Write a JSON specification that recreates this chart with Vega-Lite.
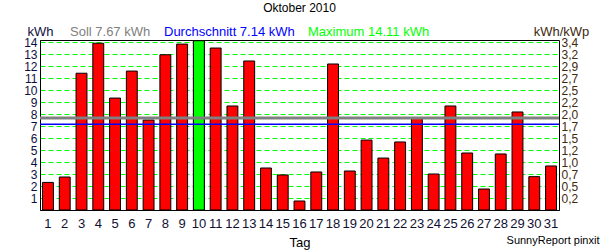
{
  "$schema": "https://vega.github.io/schema/vega-lite/v6.json",
  "autosize": {"type": "none"},
  "padding": {"left": 40, "top": 40, "right": 41, "bottom": 40},
  "width": 519,
  "height": 170,
  "background": "white",
  "title": {"text": "Oktober 2010", "fontSize": 12, "fontWeight": "normal", "font": "Liberation Sans", "color": "black", "anchor": "middle", "frame": "group", "offset": 10},
  "data": {"values": [
    {"Tag": 1, "kWh": 2.3}, {"Tag": 2, "kWh": 2.75}, {"Tag": 3, "kWh": 11.4}, {"Tag": 4, "kWh": 13.9},
    {"Tag": 5, "kWh": 9.33}, {"Tag": 6, "kWh": 11.58}, {"Tag": 7, "kWh": 7.5}, {"Tag": 8, "kWh": 12.94},
    {"Tag": 9, "kWh": 13.83}, {"Tag": 10, "kWh": 14.11}, {"Tag": 11, "kWh": 13.5}, {"Tag": 12, "kWh": 8.67},
    {"Tag": 13, "kWh": 12.42}, {"Tag": 14, "kWh": 3.5}, {"Tag": 15, "kWh": 2.92}, {"Tag": 16, "kWh": 0.75},
    {"Tag": 17, "kWh": 3.17}, {"Tag": 18, "kWh": 12.17}, {"Tag": 19, "kWh": 3.25}, {"Tag": 20, "kWh": 5.83},
    {"Tag": 21, "kWh": 4.33}, {"Tag": 22, "kWh": 5.67}, {"Tag": 23, "kWh": 7.64}, {"Tag": 24, "kWh": 3.0},
    {"Tag": 25, "kWh": 8.67}, {"Tag": 26, "kWh": 4.75}, {"Tag": 27, "kWh": 1.75}, {"Tag": 28, "kWh": 4.67},
    {"Tag": 29, "kWh": 8.17}, {"Tag": 30, "kWh": 2.78}, {"Tag": 31, "kWh": 3.67}
  ]},
  "layer": [
    {
      "mark": {"type": "bar", "fill": "#ff0000", "stroke": "black", "strokeWidth": 1},
      "encoding": {
        "x": {"field": "Tag", "type": "ordinal", "scale": {"paddingInner": 0.35, "paddingOuter": 0.15},
          "axis": {"orient": "bottom", "labelAngle": 0, "ticks": false, "tickSize": 0, "labelPadding": 7, "labelFontSize": 13, "labelFont": "Liberation Sans", "labelColor": "#101030", "labelOverlap": false, "domainColor": "black", "grid": false,
            "title": "Tag", "titleFontSize": 13, "titleFontWeight": "normal", "titleFont": "Liberation Sans", "titleColor": "black", "titleY": 32, "titleBaseline": "middle"}},
        "y": {"field": "kWh", "type": "quantitative", "scale": {"domain": [0, 14.17], "nice": false},
          "axis": {"orient": "left", "values": [1,2,3,4,5,6,7,8,9,10,11,12,13,14], "grid": true, "gridColor": "#00ff00", "gridDash": [5, 3], "gridWidth": 1, "ticks": false, "tickSize": 0, "labelPadding": 3, "labelFontSize": 12, "labelFont": "Liberation Sans", "labelColor": "#101040", "labelOverlap": false, "labelBound": false, "domainColor": "black",
            "title": "kWh", "titleAngle": 0, "titleX": 0, "titleY": -8.5, "titleAlign": "center", "titleBaseline": "middle", "titleFontSize": 13, "titleFontWeight": "normal", "titleFont": "Liberation Sans", "titleColor": "#101040"}}
      }
    },
    {
      "transform": [
        {"joinaggregate": [{"op": "max", "field": "kWh", "as": "maxkWh"}]},
        {"filter": "datum.kWh == datum.maxkWh"}
      ],
      "mark": {"type": "bar", "fill": "#00ff00", "stroke": "black", "strokeWidth": 1},
      "encoding": {
        "x": {"field": "Tag", "type": "ordinal",
          "axis": {"orient": "bottom", "labels": false, "ticks": false, "domain": false, "grid": false,
            "title": "SunnyReport pinxit", "titleFontSize": 11, "titleFontWeight": "normal", "titleFont": "Liberation Sans", "titleColor": "black", "titleX": 559, "titleY": 30, "titleAlign": "right", "titleAnchor": "end", "titleBaseline": "middle"}},
        "y": {"field": "kWh", "type": "quantitative", "axis": null}
      }
    },
    {
      "data": {"values": [
        {"label": "Soll 7.67 kWh", "kWh": 7.67},
        {"label": "Durchschnitt 7.14 kWh", "kWh": 7.14}
      ]},
      "mark": {"type": "rule"},
      "encoding": {
        "y": {"field": "kWh", "type": "quantitative",
          "axis": {"orient": "right", "values": [1,2,3,4,5,6,7,8,9,10,11,12,13,14], "grid": false, "ticks": false, "tickSize": 0, "domain": false, "labelPadding": 2, "labelFontSize": 12, "labelFont": "Liberation Sans", "labelColor": "#402a10", "labelOverlap": false, "labelBound": false,
            "labelExpr": "replace(format(datum.value / 4.075, '.1f'), '.', ',')",
            "title": "kWh/kWp", "titleAngle": 0, "titleX": 2, "titleY": -8.5, "titleAlign": "center", "titleBaseline": "middle", "titleFontSize": 13, "titleFontWeight": "normal", "titleFont": "Liberation Sans", "titleColor": "#402a10"}},
        "color": {"field": "label", "type": "nominal",
          "scale": {"domain": ["Soll 7.67 kWh", "Durchschnitt 7.14 kWh", "Maximum 14.11 kWh"], "range": ["#808080", "#0000ff", "#00ff00"]},
          "legend": {"orient": "none", "legendX": 17, "legendY": -15, "direction": "horizontal", "title": null, "symbolSize": 0.01, "symbolStrokeWidth": 0, "symbolOpacity": 0, "labelOffset": 0, "columnPadding": -2, "gridAlign": "each", "labelFontSize": 13, "labelFont": "Liberation Sans", "labelLimit": 0, "padding": 0,
            "encode": {"labels": {"update": {"fill": {"scale": "color", "field": "value"}}}}}},
        "strokeWidth": {"condition": {"test": "datum.label == 'Soll 7.67 kWh'", "value": 3}, "value": 1.5}
      }
    }
  ],
  "resolve": {"axis": {"x": "independent", "y": "independent"}},
  "config": {"view": {"stroke": "black", "strokeWidth": 1}, "font": "Liberation Sans"}
}
